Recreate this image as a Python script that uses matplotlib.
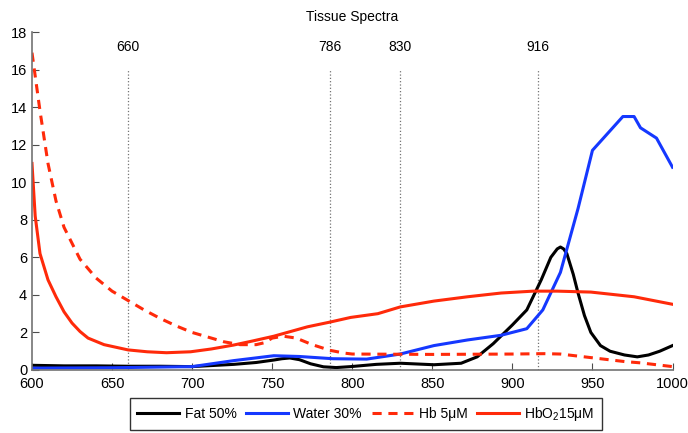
import numpy as np
import matplotlib
matplotlib.use("Agg")
import matplotlib.pyplot as plt

matplotlib.rcParams.update({
    "font.family": ["Liberation Sans", "DejaVu Sans"],
    "font.size": 10,
    "mathtext.fontset": "custom",
    "mathtext.rm": "Liberation Sans",
    "mathtext.it": "Liberation Sans:italic",
})

# wavelengths (nm) and absorption values
fat_wl = [600, 620, 640, 660, 680, 700, 726, 740, 751, 756, 761, 767, 774, 782,
          790, 799, 815, 830, 851, 868, 878, 888, 900, 909, 918, 924, 928, 930,
          932, 934, 938, 941, 945, 949, 955, 961, 970, 978, 985, 992, 1000]
fat_val = [0.25, 0.22, 0.22, 0.2, 0.2, 0.18, 0.3, 0.4, 0.53, 0.6, 0.64, 0.55,
           0.33, 0.17, 0.13, 0.18, 0.3, 0.36, 0.28, 0.36, 0.7, 1.4, 2.4, 3.2,
           4.8, 6.0, 6.45, 6.55, 6.45, 6.2, 5.1, 4.1, 2.9, 2.0, 1.3, 1.0, 0.8,
           0.7, 0.8, 1.0, 1.3]

water_wl = [600, 650, 700, 726, 751, 767, 788, 809, 830, 851, 872, 893, 909,
            919, 930, 941, 950, 969, 976, 980, 990, 1000]
water_val = [0.1, 0.12, 0.18, 0.5, 0.76, 0.72, 0.6, 0.58, 0.85, 1.3, 1.6, 1.85,
             2.2, 3.2, 5.2, 8.6, 11.7, 13.5, 13.5, 12.9, 12.35, 10.8]

hb_wl = [600, 605, 610, 615, 620, 630, 640, 650, 660, 670, 680, 690, 700, 710,
         720, 730, 740, 745, 750, 757, 765, 775, 786, 795, 800, 850, 900, 920,
         930, 940, 950, 960, 970, 980, 990, 1000]
hb_val = [16.9, 13.8, 11.0, 9.0, 7.6, 5.9, 4.9, 4.2, 3.7, 3.2, 2.75, 2.35, 2.0,
          1.75, 1.5, 1.35, 1.35, 1.45, 1.7, 1.8, 1.7, 1.35, 1.05, 0.9, 0.85,
          0.83, 0.85, 0.87, 0.85, 0.75, 0.65, 0.55, 0.45, 0.38, 0.28, 0.18]

hbo2_wl = [600, 602, 605, 610, 615, 620, 625, 630, 635, 645, 660, 672, 684, 699,
           712, 726, 738, 751, 772, 786, 799, 816, 830, 851, 872, 893, 913, 928,
           949, 976, 1000]
hbo2_val = [11.0, 8.2, 6.2, 4.8, 3.9, 3.1, 2.5, 2.05, 1.7, 1.35, 1.07, 0.97,
            0.92, 0.97, 1.12, 1.33, 1.55, 1.8, 2.3, 2.55, 2.8, 3.0, 3.36, 3.67,
            3.9, 4.1, 4.2, 4.2, 4.15, 3.9, 3.5]

marks = [660, 786, 830, 916]

RED = "#ff2a0a"
BLUE = "#1538ff"

fig = plt.figure(figsize=(6.88, 4.33), dpi=100)
ax = fig.add_axes([0.0465, 0.1455, 0.931, 0.7805])

for m in marks:
    ax.plot([m, m], [0, 16], linestyle=":", color="0.45", linewidth=0.9)
    ax.text(m, 17.2, str(m), ha="center", va="center", fontsize=10)

ax.plot(fat_wl, fat_val, color="black", linewidth=2.2, label="Fat 50%")
ax.plot(water_wl, water_val, color=BLUE, linewidth=2.2, label="Water 30%")
ax.plot(hb_wl, hb_val, color=RED, linewidth=2.2, linestyle=(0, (3, 2.2)),
        label="Hb 5μM")
ax.plot(hbo2_wl, hbo2_val, color=RED, linewidth=2.2, label="HbO$_2$15μM")

ax.set_xlim(600, 1000)
ax.set_ylim(0, 18)
ax.set_xticks(np.arange(600, 1001, 50))
ax.set_yticks(np.arange(0, 19, 2))
ax.tick_params(direction="in", length=5, color="0.3", labelsize=10.5)
ax.tick_params(axis="x", pad=5)
for s in ["top", "right"]:
    ax.spines[s].set_visible(False)
for s in ["left", "bottom"]:
    ax.spines[s].set_color("0.45")
    ax.spines[s].set_linewidth(1.2)

ax.set_title("Tissue Spectra", fontsize=10, pad=8)

leg = fig.legend(loc="center", bbox_to_anchor=(0.532, 0.044), ncol=4,
                 fancybox=False, edgecolor="black", handlelength=3.0,
                 columnspacing=0.7, handletextpad=0.4, fontsize=10,
                 borderpad=0.5)
leg.get_frame().set_linewidth(1.0)

fig.savefig("out.png", dpi=100)
